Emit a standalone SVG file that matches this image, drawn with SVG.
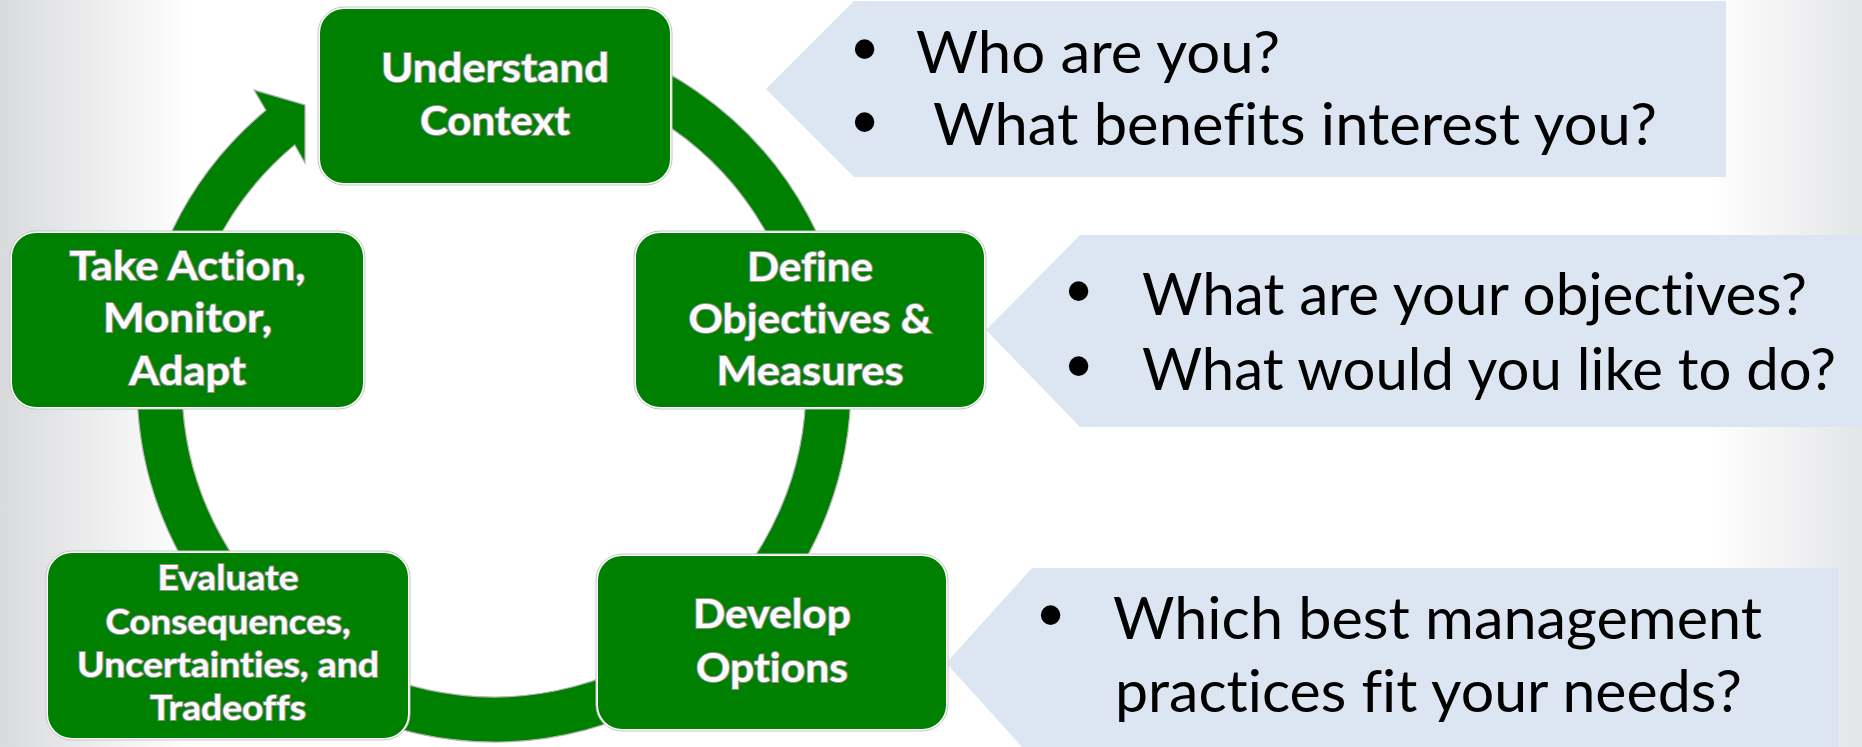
<svg xmlns="http://www.w3.org/2000/svg" width="1862" height="747" viewBox="0 0 1862 747">
  <defs>
    <linearGradient id="bg" x1="0" y1="0" x2="1862" y2="0" gradientUnits="userSpaceOnUse">
      <stop offset="0" stop-color="#d9dadc"/>
      <stop offset="0.102" stop-color="#ffffff"/>
      <stop offset="0.918" stop-color="#ffffff"/>
      <stop offset="1" stop-color="#e4e5e7"/>
    </linearGradient>
    <style>
      .callout { fill: #dce6f2; }
      .q { font-family: Lato, "Open Sans", "Liberation Sans", sans-serif; font-size: 58px; fill: #000000;
           font-variant-ligatures: none; }
      .dot { font-family: "Liberation Sans", Arial, sans-serif; font-size: 72px; fill: #000000; }
      .halo { fill: #ffffff; stroke: #c4c4c4; stroke-width: 1; }
      .box { fill: #008000; }
      .lbl { font-family: Lato, "Open Sans", "Liberation Sans", sans-serif; font-weight: bold; font-size: 41px;
             fill: #fbfbfb; stroke: #8f8f8f; stroke-width: 2; paint-order: stroke; text-anchor: middle;
             font-variant-ligatures: none; }
      .lbl.small { font-size: 35px; }
      .ring { fill: #008000; stroke: #b3b3b3; stroke-width: 1.2; }
    </style>
  </defs>

  <!-- page background -->
  <rect x="0" y="0" width="1862" height="747" fill="url(#bg)"/>

  <!-- question callouts -->
  <g id="callout-context">
    <polygon class="callout" points="766,89 854,1 1726,1 1726,177 854,177"/>
    <text class="dot" x="852" y="73">•</text>
    <text class="q" x="916" y="73" textLength="364" lengthAdjust="spacingAndGlyphs">Who are you?</text>
    <text class="dot" x="852" y="146">•</text>
    <text class="q" x="933" y="145" textLength="724" lengthAdjust="spacingAndGlyphs">What benefits interest you?</text>
  </g>

  <g id="callout-objectives">
    <polygon class="callout" points="986,330 1080,235 1862,235 1862,427 1080,427"/>
    <text class="dot" x="1066" y="315">•</text>
    <text class="q" x="1142" y="315" textLength="665" lengthAdjust="spacingAndGlyphs">What are your objectives?</text>
    <text class="dot" x="1066" y="390">•</text>
    <text class="q" x="1142" y="390" textLength="694" lengthAdjust="spacingAndGlyphs">What would you like to do?</text>
  </g>

  <g id="callout-options">
    <polygon class="callout" points="946,663 1032,568 1839,568 1839,758 1032,758"/>
    <text class="dot" x="1038" y="639">•</text>
    <text class="q" x="1113" y="639" textLength="649" lengthAdjust="spacingAndGlyphs">Which best management</text>
    <text class="q" x="1115" y="712" textLength="627" lengthAdjust="spacingAndGlyphs">practices fit your needs?</text>
  </g>

  <!-- cycle ring with arrowhead into the first step -->
  <g id="connectors">
    <path class="ring" d="M 556.0 33.4 A 357 357 0 1 1 265.9 110.3 L 254 90 L 305 105 L 305 163 L 294.7 144.9 A 312 312 0 1 0 548.2 77.7 Z"/>
  </g>

  <!-- cycle steps -->
  <g id="step-understand">
    <rect class="halo" x="318" y="7" width="354" height="178" rx="26"/>
    <rect class="box" x="320" y="9" width="350" height="174" rx="24"/>
    <text class="lbl" x="495" y="82" textLength="228" lengthAdjust="spacingAndGlyphs">Understand</text>
    <text class="lbl" x="495" y="135" textLength="150" lengthAdjust="spacingAndGlyphs">Context</text>
  </g>

  <g id="step-define">
    <rect class="halo" x="634" y="231" width="352" height="178" rx="26"/>
    <rect class="box" x="636" y="233" width="348" height="174" rx="24"/>
    <text class="lbl" x="810" y="281" textLength="126" lengthAdjust="spacingAndGlyphs">Define</text>
    <text class="lbl" x="810" y="333" textLength="243" lengthAdjust="spacingAndGlyphs">Objectives &amp;</text>
    <text class="lbl" x="810" y="385" textLength="187" lengthAdjust="spacingAndGlyphs">Measures</text>
  </g>

  <g id="step-develop">
    <rect class="halo" x="596" y="554" width="352" height="177" rx="26"/>
    <rect class="box" x="598" y="556" width="348" height="173" rx="24"/>
    <text class="lbl" x="772" y="628" textLength="158" lengthAdjust="spacingAndGlyphs">Develop</text>
    <text class="lbl" x="772" y="682" textLength="152" lengthAdjust="spacingAndGlyphs">Options</text>
  </g>

  <g id="step-evaluate">
    <rect class="halo" x="46" y="551" width="364" height="189" rx="26"/>
    <rect class="box" x="48" y="553" width="360" height="185" rx="24"/>
    <text class="lbl small" x="228" y="590" textLength="141" lengthAdjust="spacingAndGlyphs">Evaluate</text>
    <text class="lbl small" x="228" y="634" textLength="245" lengthAdjust="spacingAndGlyphs">Consequences,</text>
    <text class="lbl small" x="228" y="677" textLength="302" lengthAdjust="spacingAndGlyphs">Uncertainties, and</text>
    <text class="lbl small" x="228" y="720" textLength="156" lengthAdjust="spacingAndGlyphs">Tradeoffs</text>
  </g>

  <g id="step-act">
    <rect class="halo" x="10" y="231" width="355" height="178" rx="26"/>
    <rect class="box" x="12" y="233" width="351" height="174" rx="24"/>
    <text class="lbl" x="187.5" y="280" textLength="236" lengthAdjust="spacingAndGlyphs">Take Action,</text>
    <text class="lbl" x="187.5" y="332" textLength="169" lengthAdjust="spacingAndGlyphs">Monitor,</text>
    <text class="lbl" x="187.5" y="385" textLength="117" lengthAdjust="spacingAndGlyphs">Adapt</text>
  </g>
</svg>
